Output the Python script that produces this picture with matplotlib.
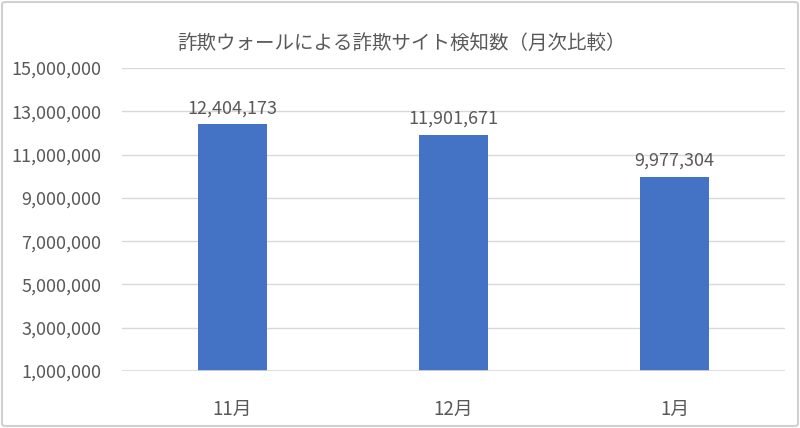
import matplotlib
matplotlib.use("Agg")
import matplotlib.pyplot as plt
from matplotlib.patches import FancyBboxPatch

plt.rcParams['font.family'] = ['Noto Sans CJK JP', 'DejaVu Sans']

categories = ["11月", "12月", "1月"]
values = [12404173, 11901671, 9977304]
yticks = [1000000, 3000000, 5000000, 7000000, 9000000, 11000000, 13000000, 15000000]
title = "詐欺ウォールによる詐欺サイト検知数（月次比較）"

W, H = 800, 428
fig = plt.figure(figsize=(W / 100, H / 100), dpi=100)
ax = fig.add_axes([122 / W, 1 - 371 / H, (785 - 122) / W, (371 - 68) / H])

text_color = "#595959"
grid_color = "#D9D9D9"
bar_color = "#4472C4"

x = list(range(len(categories)))
ax.bar(x, values, width=0.31, color=bar_color, zorder=3, bottom=0)
ax.set_xlim(-0.5, len(categories) - 0.5)
ax.set_ylim(yticks[0], yticks[-1])
ax.set_yticks(yticks)
ax.set_yticklabels([f"{v:,}" for v in yticks], color=text_color, fontsize=13)
ax.set_xticks(x)
ax.set_xticklabels(categories, color=text_color, fontsize=13.5)
ax.tick_params(axis='both', length=0)
ax.tick_params(axis='y', pad=15)
ax.tick_params(axis='x', pad=20)
ax.grid(axis='y', color=grid_color, linewidth=1, zorder=0)
for s in ax.spines.values():
    s.set_visible(False)
ax.axhline(yticks[0], color=grid_color, linewidth=1.2, zorder=4)

for xi, v in zip(x, values):
    ax.annotate(f"{v:,}", (xi, v), xytext=(0, 5), textcoords="offset points",
                ha="center", va="bottom", color=text_color, fontsize=13)

fig.text(402 / W, 1 - 43 / H, title, ha="center", va="center",
         color=text_color, fontsize=14)

border = FancyBboxPatch((2 / W, 2 / H), (W - 4) / W, (H - 4) / H,
                        boxstyle="round,pad=0,rounding_size=0.005",
                        transform=fig.transFigure, fill=False,
                        edgecolor="#D0D0D0", linewidth=1.5)
fig.patches.append(border)

fig.savefig("out.png", dpi=100)
